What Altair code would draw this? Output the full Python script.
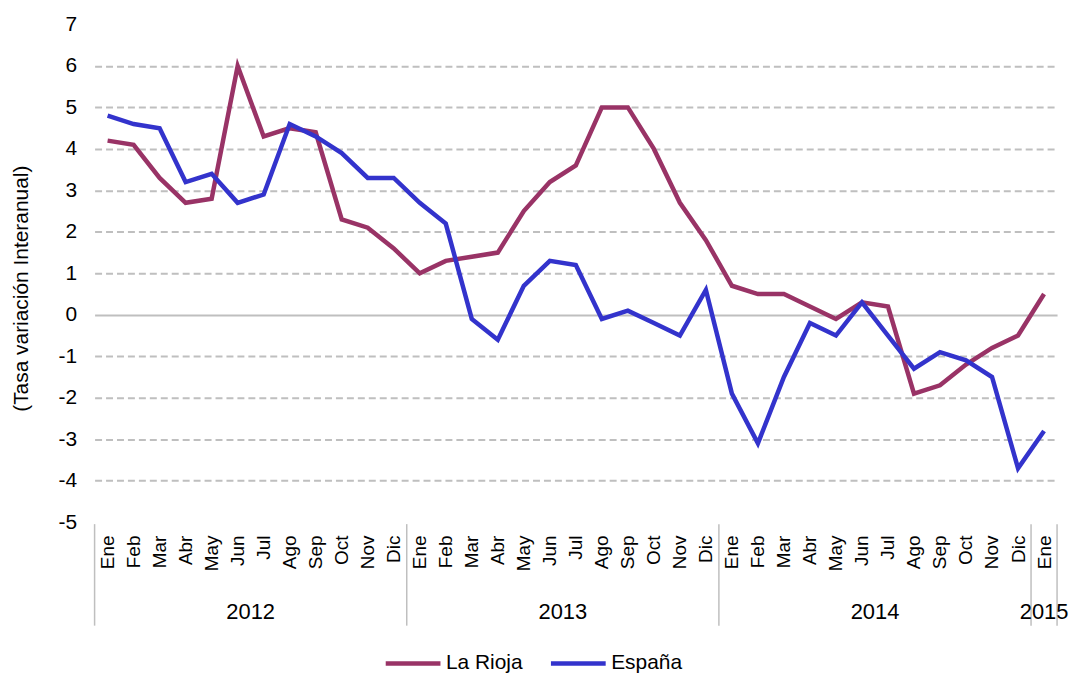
import json
import altair as alt
import pandas as pd

months = ["Ene", "Feb", "Mar", "Abr", "May", "Jun", "Jul", "Ago", "Sep", "Oct", "Nov", "Dic"]
years = ["2012", "2013", "2014", "2015"]
series_names = ["La Rioja", "España"]

la_rioja = [4.2, 4.1, 3.3, 2.7, 2.8, 6.0, 4.3, 4.5, 4.4, 2.3, 2.1, 1.6,
            1.0, 1.3, 1.4, 1.5, 2.5, 3.2, 3.6, 5.0, 5.0, 4.0, 2.7, 1.8,
            0.7, 0.5, 0.5, 0.2, -0.1, 0.3, 0.2, -1.9, -1.7, -1.2, -0.8, -0.5,
            0.5]
espana = [4.8, 4.6, 4.5, 3.2, 3.4, 2.7, 2.9, 4.6, 4.3, 3.9, 3.3, 3.3,
          2.7, 2.2, -0.1, -0.6, 0.7, 1.3, 1.2, -0.1, 0.1, -0.2, -0.5, 0.6,
          -1.9, -3.1, -1.5, -0.2, -0.5, 0.3, -0.5, -1.3, -0.9, -1.1, -1.5, -3.7,
          -2.8]

year_label_pos = [5.5, 17.5, 29.5, 36]
separators = [-0.5, 11.5, 23.5, 35.5, 36.5]

n = len(la_rioja)
rows = []
for i in range(n):
    rows.append({"idx": i, "serie": series_names[0], "valor": la_rioja[i]})
for i in range(n):
    rows.append({"idx": i, "serie": series_names[1], "valor": espana[i]})
df = pd.DataFrame(rows)

years_df = pd.DataFrame({"pos": year_label_pos, "year": years})
sep_df = pd.DataFrame({"pos": separators})

W, H = 967, 500
FONT = "Liberation Sans"
GRID = "#BFBFBF"

month_expr = json.dumps(months) + "[datum.value % 12]"

xscale = alt.Scale(domain=[-0.5, n - 0.5], nice=False, zero=False)
xaxis = alt.Axis(values=list(range(n)), labelExpr=month_expr,
                 labelAngle=270, labelAlign="right", labelBaseline="middle",
                 labelPadding=13, labelFontSize=19, labelColor="#000000",
                 labelFont=FONT, domain=False, ticks=False, grid=False,
                 title=None, labelOverlap=False, labelFlush=False)

lines = alt.Chart(df).mark_line(strokeWidth=4.5, clip=False).encode(
    x=alt.X("idx:Q", scale=xscale, axis=xaxis),
    y=alt.Y("valor:Q", scale=alt.Scale(domain=[-5, 7], nice=False),
            axis=alt.Axis(values=list(range(-5, 8)), title="(Tasa variación Interanual)",
                          labelExpr="toString(datum.value)",
                          titleFontSize=21, titleFont=FONT, titleFontWeight="normal",
                          titleColor="#000000", titlePadding=27, titleY=265,
                          labelFontSize=21, labelFont=FONT, labelColor="#000000",
                          labelPadding=18, domain=False, ticks=False,
                          grid=True, gridColor=GRID, gridWidth=2,
                          gridDash={"condition": {"test": "datum.value === 0", "value": [1, 0]},
                                    "value": [7, 4]},
                          gridOpacity={"condition": {"test": "datum.value === -5 || datum.value === 7",
                                                     "value": 0}, "value": 1})),
    color=alt.Color("serie:N",
                    scale=alt.Scale(domain=series_names, range=["#993366", "#3333CC"]),
                    legend=alt.Legend(title=None, orient="none", direction="horizontal",
                                      legendX=290, legendY=612,
                                      symbolType="stroke", symbolSize=3025,
                                      symbolStrokeWidth=4.5, labelFontSize=21,
                                      labelFont=FONT, labelColor="#000000",
                                      labelOffset=3, columnPadding=18)),
    order=alt.Order("idx:Q"),
)

seps = alt.Chart(sep_df).mark_rule(color=GRID, strokeWidth=1.5, clip=False).encode(
    x=alt.X("pos:Q", scale=xscale, axis=xaxis),
    y=alt.value(H + 2),
    y2=alt.value(H + 104),
)

year_text = alt.Chart(years_df).mark_text(fontSize=22, font=FONT, color="#000000",
                                          baseline="middle", align="center", clip=False).encode(
    x=alt.X("pos:Q", scale=xscale, axis=xaxis),
    y=alt.value(H + 90),
    text="year:N",
)

chart = alt.layer(seps, lines, year_text).properties(
    width=W, height=H,
    autosize=alt.AutoSizeParams(type="none"),
    padding={"left": 87, "top": 15, "right": 12, "bottom": 150},
).configure_view(stroke=None)

chart.save("out.html", embed_options={"renderer": "svg", "actions": False})
